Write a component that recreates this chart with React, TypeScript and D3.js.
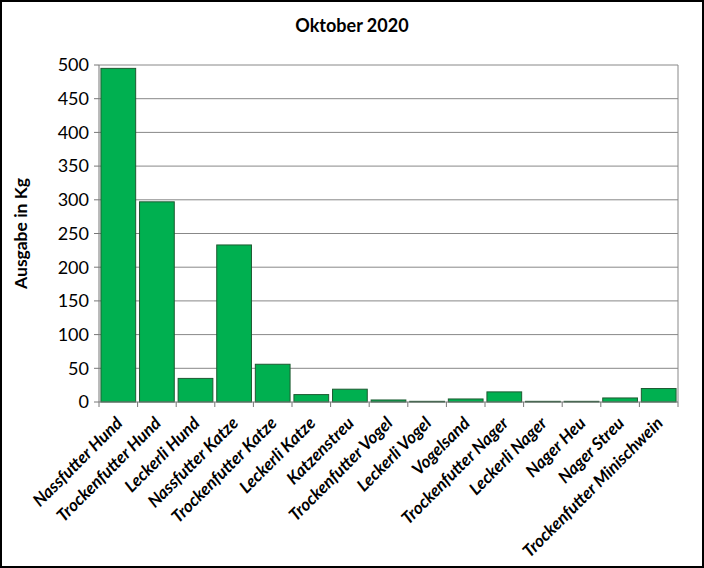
import React, { useEffect, useRef } from 'react';
import * as d3 from 'd3';

const categories = [
  'Nassfutter Hund',
  'Trockenfutter Hund',
  'Leckerli Hund',
  'Nassfutter Katze',
  'Trockenfutter Katze',
  'Leckerli Katze',
  'Katzenstreu',
  'Trockenfutter Vogel',
  'Leckerli Vogel',
  'Vogelsand',
  'Trockenfutter Nager',
  'Leckerli Nager',
  'Nager Heu',
  'Nager Streu',
  'Trockenfutter Minischwein',
];
const values = [495, 297, 35, 233, 56, 11, 19, 3, 1, 4.5, 15, 1, 1, 6, 20];
const yTicks = [0, 50, 100, 150, 200, 250, 300, 350, 400, 450, 500];

const title = 'Oktober 2020';
const yLabel = 'Ausgabe in Kg';

const App: React.FC = () => {
  const svgRef = useRef<SVGSVGElement>(null);

  useEffect(() => {
    document.body.style.margin = '0';
    if (!svgRef.current) return;

    const width = 704;
    const height = 568;
    const margin = { top: 65, right: 26, bottom: 166, left: 99 };
    const font = "Lato, 'Open Sans', sans-serif";

    const svg = d3.select(svgRef.current);
    svg.selectAll('*').remove();
    svg.attr('width', width).attr('height', height);

    // frame
    svg.append('rect')
      .attr('x', 1).attr('y', 1)
      .attr('width', width - 2).attr('height', height - 2)
      .style('fill', '#fff')
      .style('stroke', '#000')
      .style('stroke-width', 2);

    const x = d3.scaleBand<string>()
      .domain(categories)
      .range([margin.left, width - margin.right])
      .paddingInner(0.1)
      .paddingOuter(0.05);

    const y = d3.scaleLinear()
      .domain([0, 500])
      .range([height - margin.bottom, margin.top]);

    // grid
    svg.append('g')
      .selectAll('line')
      .data(yTicks.filter(t => t > 0))
      .enter().append('line')
      .attr('x1', margin.left).attr('x2', width - margin.right)
      .attr('y1', d => y(d)).attr('y2', d => y(d))
      .style('stroke', '#888')
      .style('stroke-width', 1);

    // plot border right
    svg.append('line')
      .attr('x1', width - margin.right).attr('x2', width - margin.right)
      .attr('y1', margin.top).attr('y2', height - margin.bottom)
      .style('stroke', '#888');

    // bars
    svg.append('g')
      .selectAll('rect')
      .data(values)
      .enter().append('rect')
      .attr('x', (d, i) => x(categories[i])!)
      .attr('width', x.bandwidth())
      .attr('y', d => y(d))
      .attr('height', d => y(0) - y(d))
      .style('fill', '#00b050')
      .style('stroke', '#1e5a32')
      .style('stroke-width', 1);

    // y axis
    svg.append('line')
      .attr('x1', margin.left).attr('x2', margin.left)
      .attr('y1', margin.top).attr('y2', height - margin.bottom)
      .style('stroke', '#777');

    const yt = svg.append('g');
    yt.selectAll('line')
      .data(yTicks)
      .enter().append('line')
      .attr('x1', margin.left - 5).attr('x2', margin.left)
      .attr('y1', d => y(d)).attr('y2', d => y(d))
      .style('stroke', '#777');
    yt.selectAll('text')
      .data(yTicks)
      .enter().append('text')
      .attr('x', margin.left - 10)
      .attr('y', d => y(d))
      .attr('dy', '0.35em')
      .attr('text-anchor', 'end')
      .style('font-family', font)
      .style('font-size', '18px')
      .style('fill', '#000')
      .text(d => d);

    // x axis
    const base = y(0);
    const plotW = width - margin.left - margin.right;
    svg.append('line')
      .attr('x1', margin.left).attr('x2', width - margin.right)
      .attr('y1', base).attr('y2', base)
      .style('stroke', '#777');
    svg.append('g')
      .selectAll('line')
      .data(d3.range(categories.length + 1))
      .enter().append('line')
      .attr('x1', i => margin.left + i * plotW / categories.length)
      .attr('x2', i => margin.left + i * plotW / categories.length)
      .attr('y1', base).attr('y2', base + 5)
      .style('stroke', '#777');

    svg.append('g')
      .selectAll('text')
      .data(categories)
      .enter().append('text')
      .attr('transform', d => `translate(${x(d)! + x.bandwidth() / 2 + 1},${base + 18}) rotate(-45)`)
      .attr('text-anchor', 'end')
      .attr('dy', '0.35em')
      .style('font-family', font)
      .style('font-size', '17px')
      .style('font-weight', 'bold')
      .style('font-style', 'italic')
      .style('fill', '#000')
      .text(d => d);

    // title
    svg.append('text')
      .attr('x', width / 2)
      .attr('y', 32)
      .attr('text-anchor', 'middle')
      .style('font-family', font)
      .style('font-size', '18px')
      .style('font-weight', 'bold')
      .text(title);

    // y label
    svg.append('text')
      .attr('transform', `translate(27,${(margin.top + base) / 2}) rotate(-90)`)
      .attr('text-anchor', 'middle')
      .style('font-family', font)
      .style('font-size', '17.5px')
      .style('font-weight', 'bold')
      .text(yLabel);
  }, []);

  return <svg ref={svgRef} style={{ display: 'block' }} />;
};

export default App;
